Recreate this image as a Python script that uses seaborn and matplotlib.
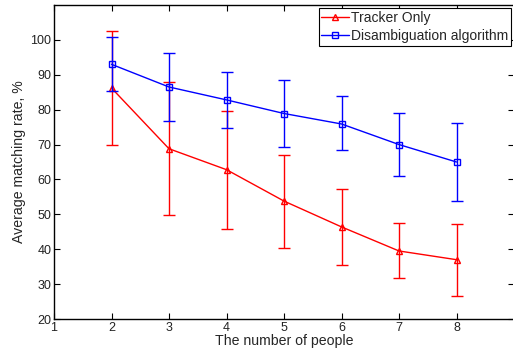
import matplotlib
matplotlib.use("Agg")
import matplotlib.pyplot as plt
import seaborn as sns
import pandas as pd

people = [2, 3, 4, 5, 6, 7, 8]
tracker_mean = [86.2, 68.8, 62.8, 53.8, 46.4, 39.5, 37.0]
tracker_low = [69.9, 49.7, 45.7, 40.3, 35.4, 31.8, 26.7]
tracker_high = [102.5, 88.0, 79.7, 67.1, 57.2, 47.4, 47.1]
disamb_mean = [93.0, 86.5, 82.8, 78.9, 75.9, 70.0, 65.0]
disamb_low = [85.3, 76.8, 74.8, 69.3, 68.3, 61.1, 53.8]
disamb_high = [100.9, 96.2, 90.9, 88.6, 83.8, 79.1, 76.2]

series_names = ["Tracker Only", "Disambiguation algorithm"]
x_ticks = [1, 2, 3, 4, 5, 6, 7, 8]
y_ticks = [20, 30, 40, 50, 60, 70, 80, 90, 100]

sns.set_theme(style="ticks")
plt.rcParams["font.family"] = ["Liberation Sans", "DejaVu Sans"]

fig = plt.figure(figsize=(5.13, 3.52), dpi=100)
W, H = 513, 352
ax = fig.add_axes([54 / W, (H - 319) / H, (514 - 54) / W, (319 - 5) / H])

series = [
    (series_names[0], "#ff0000", "^", tracker_mean, tracker_low, tracker_high),
    (series_names[1], "#0000ff", "s", disamb_mean, disamb_low, disamb_high),
]

for name, color, marker, mean, low, high in series:
    df = pd.DataFrame({"people": people, "rate": mean})
    sns.lineplot(data=df, x="people", y="rate", color=color, marker=marker,
                 markersize=4.5, markerfacecolor="none", markeredgecolor=color,
                 markeredgewidth=1.0, linewidth=1.0, label=name, ax=ax)
    lower = [m - l for m, l in zip(mean, low)]
    upper = [h - m for m, h in zip(mean, high)]
    ax.errorbar(people, mean, yerr=[lower, upper], fmt="none",
                ecolor=color, elinewidth=1.0, capsize=4, capthick=1.0)

ax.set_xlim(1, 9)
ax.set_ylim(20, 110)
ax.set_xticks(x_ticks)
ax.set_yticks(y_ticks)
ax.tick_params(direction="in", length=4, width=0.8, labelsize=9,
               top=True, right=True, colors="black", labelcolor="#222222",
               pad=2)
for s in ax.spines.values():
    s.set_visible(True)
    s.set_linewidth(1.0)
    s.set_color("black")

ax.set_xlabel("The number of people", fontsize=10.2, labelpad=0.5)
ax.set_ylabel("Average matching rate, %", fontsize=10.2, labelpad=3)

leg = ax.legend(loc="upper right", fontsize=10, frameon=True, fancybox=False,
                edgecolor="black", framealpha=1, borderpad=0.2,
                handlelength=2.0, handletextpad=0.1, labelspacing=0.25,
                borderaxespad=0.25)
leg.get_frame().set_linewidth(0.8)

fig.savefig("out.png", dpi=100)
